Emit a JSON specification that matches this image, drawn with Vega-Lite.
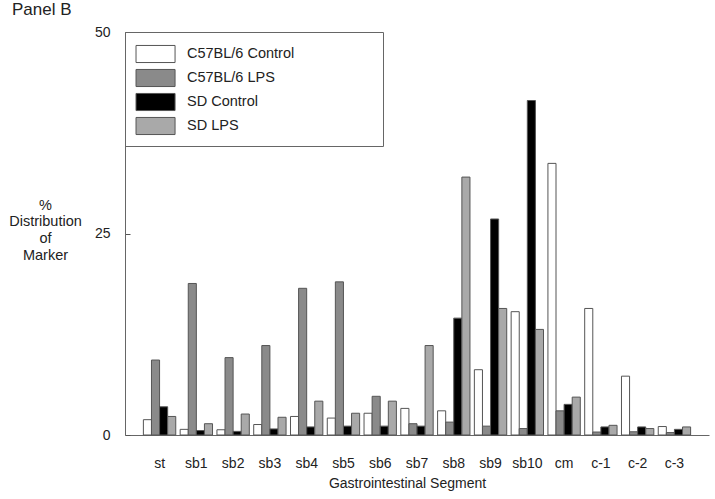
{
  "$schema": "https://vega.github.io/schema/vega-lite/v6.json",
  "width": 584,
  "height": 403,
  "autosize": {"type": "none"},
  "padding": {"left": 125, "top": 32, "right": 6, "bottom": 64},
  "background": "white",
  "title": {
    "text": "Panel B",
    "anchor": "start",
    "frame": "group",
    "dx": -113,
    "dy": 18,
    "offset": 11,
    "baseline": "alphabetic",
    "font": "Liberation Sans",
    "fontSize": 17,
    "fontWeight": "normal",
    "color": "#222"
  },
  "config": {
    "view": {"stroke": null},
    "font": "Liberation Sans"
  },
  "data": {
    "values": [
      {"seg": "st", "grp": "C57BL/6 Control", "val": 1.9},
      {"seg": "st", "grp": "C57BL/6 LPS", "val": 9.3},
      {"seg": "st", "grp": "SD Control", "val": 3.5},
      {"seg": "st", "grp": "SD LPS", "val": 2.3},
      {"seg": "sb1", "grp": "C57BL/6 Control", "val": 0.7},
      {"seg": "sb1", "grp": "C57BL/6 LPS", "val": 18.8},
      {"seg": "sb1", "grp": "SD Control", "val": 0.55},
      {"seg": "sb1", "grp": "SD LPS", "val": 1.4},
      {"seg": "sb2", "grp": "C57BL/6 Control", "val": 0.65},
      {"seg": "sb2", "grp": "C57BL/6 LPS", "val": 9.6},
      {"seg": "sb2", "grp": "SD Control", "val": 0.45},
      {"seg": "sb2", "grp": "SD LPS", "val": 2.6},
      {"seg": "sb3", "grp": "C57BL/6 Control", "val": 1.3},
      {"seg": "sb3", "grp": "C57BL/6 LPS", "val": 11.1},
      {"seg": "sb3", "grp": "SD Control", "val": 0.75},
      {"seg": "sb3", "grp": "SD LPS", "val": 2.2},
      {"seg": "sb4", "grp": "C57BL/6 Control", "val": 2.3},
      {"seg": "sb4", "grp": "C57BL/6 LPS", "val": 18.2},
      {"seg": "sb4", "grp": "SD Control", "val": 1.0},
      {"seg": "sb4", "grp": "SD LPS", "val": 4.2},
      {"seg": "sb5", "grp": "C57BL/6 Control", "val": 2.1},
      {"seg": "sb5", "grp": "C57BL/6 LPS", "val": 19.0},
      {"seg": "sb5", "grp": "SD Control", "val": 1.1},
      {"seg": "sb5", "grp": "SD LPS", "val": 2.7},
      {"seg": "sb6", "grp": "C57BL/6 Control", "val": 2.7},
      {"seg": "sb6", "grp": "C57BL/6 LPS", "val": 4.8},
      {"seg": "sb6", "grp": "SD Control", "val": 1.1},
      {"seg": "sb6", "grp": "SD LPS", "val": 4.2},
      {"seg": "sb7", "grp": "C57BL/6 Control", "val": 3.3},
      {"seg": "sb7", "grp": "C57BL/6 LPS", "val": 1.4},
      {"seg": "sb7", "grp": "SD Control", "val": 1.1},
      {"seg": "sb7", "grp": "SD LPS", "val": 11.1},
      {"seg": "sb8", "grp": "C57BL/6 Control", "val": 3.0},
      {"seg": "sb8", "grp": "C57BL/6 LPS", "val": 1.6},
      {"seg": "sb8", "grp": "SD Control", "val": 14.5},
      {"seg": "sb8", "grp": "SD LPS", "val": 32.0},
      {"seg": "sb9", "grp": "C57BL/6 Control", "val": 8.1},
      {"seg": "sb9", "grp": "C57BL/6 LPS", "val": 1.1},
      {"seg": "sb9", "grp": "SD Control", "val": 26.8},
      {"seg": "sb9", "grp": "SD LPS", "val": 15.7},
      {"seg": "sb10", "grp": "C57BL/6 Control", "val": 15.3},
      {"seg": "sb10", "grp": "C57BL/6 LPS", "val": 0.8},
      {"seg": "sb10", "grp": "SD Control", "val": 41.5},
      {"seg": "sb10", "grp": "SD LPS", "val": 13.1},
      {"seg": "cm", "grp": "C57BL/6 Control", "val": 33.7},
      {"seg": "cm", "grp": "C57BL/6 LPS", "val": 3.0},
      {"seg": "cm", "grp": "SD Control", "val": 3.8},
      {"seg": "cm", "grp": "SD LPS", "val": 4.7},
      {"seg": "c-1", "grp": "C57BL/6 Control", "val": 15.7},
      {"seg": "c-1", "grp": "C57BL/6 LPS", "val": 0.37},
      {"seg": "c-1", "grp": "SD Control", "val": 1.0},
      {"seg": "c-1", "grp": "SD LPS", "val": 1.2},
      {"seg": "c-2", "grp": "C57BL/6 Control", "val": 7.3},
      {"seg": "c-2", "grp": "C57BL/6 LPS", "val": 0.4},
      {"seg": "c-2", "grp": "SD Control", "val": 1.0},
      {"seg": "c-2", "grp": "SD LPS", "val": 0.8},
      {"seg": "c-3", "grp": "C57BL/6 Control", "val": 1.05},
      {"seg": "c-3", "grp": "C57BL/6 LPS", "val": 0.3},
      {"seg": "c-3", "grp": "SD Control", "val": 0.7},
      {"seg": "c-3", "grp": "SD LPS", "val": 1.0}
    ]
  },
  "mark": {"type": "bar", "stroke": "#555555", "strokeWidth": 1},
  "encoding": {
    "x": {
      "field": "seg",
      "type": "nominal",
      "sort": null,
      "scale": {"paddingInner": 0.12, "paddingOuter": 0.5},
      "axis": {
        "title": "Gastrointestinal Segment",
        "labelAngle": 0,
        "ticks": false,
        "labelPadding": 21,
        "labelBaseline": "top",
        "labelFontSize": 14,
        "labelColor": "#222",
        "domainColor": "#666",
        "titleFontSize": 14,
        "titleFontWeight": "normal",
        "titleColor": "#222",
        "titleX": 282,
        "titleY": 41,
        "titleBaseline": "top"
      }
    },
    "xOffset": {
      "field": "grp",
      "type": "nominal",
      "sort": ["C57BL/6 Control", "C57BL/6 LPS", "SD Control", "SD LPS"],
      "scale": {"paddingInner": 0, "paddingOuter": 0}
    },
    "y": {
      "field": "val",
      "type": "quantitative",
      "scale": {"domain": [0, 50], "nice": false},
      "axis": {
        "values": [0, 25, 50],
        "grid": false,
        "tickSize": -5,
        "tickColor": "#555",
        "domainColor": "#666",
        "labelPadding": 20,
        "labelFontSize": 14,
        "labelColor": "#222",
        "title": ["%", "Distribution", "of", "Marker"],
        "titleAngle": 0,
        "titleAlign": "center",
        "titleBaseline": "top",
        "titleX": -80,
        "titleY": 166,
        "titleLineHeight": 16.7,
        "titleFontSize": 14.5,
        "titleFontWeight": "normal",
        "titleColor": "#222"
      }
    },
    "fill": {
      "field": "grp",
      "type": "nominal",
      "sort": ["C57BL/6 Control", "C57BL/6 LPS", "SD Control", "SD LPS"],
      "scale": {
        "domain": ["C57BL/6 Control", "C57BL/6 LPS", "SD Control", "SD LPS"],
        "range": ["#ffffff", "#8a8a8a", "#000000", "#a9a9a9"]
      },
      "legend": {
        "orient": "none",
        "legendX": 0,
        "legendY": 0,
        "title": "\u00a0",
        "titleOrient": "right",
        "titlePadding": 80,
        "strokeColor": "#666",
        "padding": 9,
        "symbolType": "M-0.9,-0.7H2.3V0.7H-0.9Z",
        "symbolSize": 595,
        "symbolStrokeColor": "#555",
        "symbolStrokeWidth": 1,
        "symbolOpacity": 1,
        "labelFontSize": 14.5,
        "labelColor": "#222",
        "labelOffset": 27,
        "rowPadding": -0.5
      }
    }
  }
}
